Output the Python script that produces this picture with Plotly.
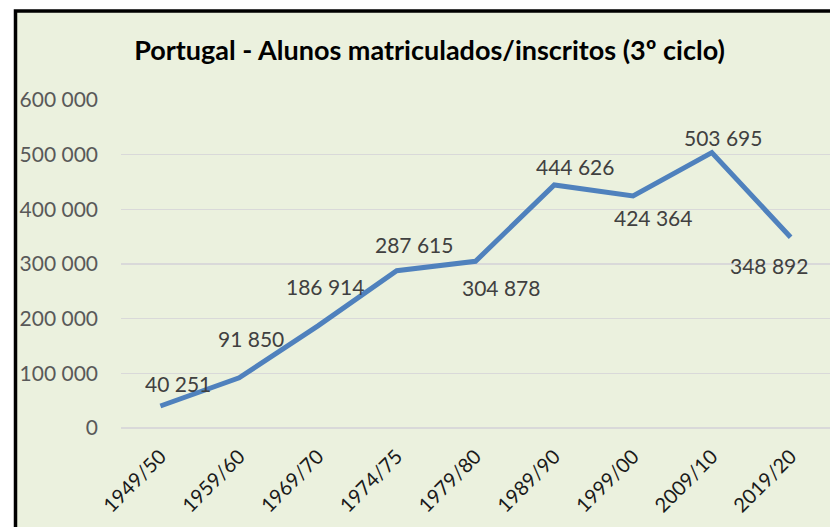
import plotly.graph_objects as go

categories = ["1949/50", "1959/60", "1969/70", "1974/75", "1979/80",
              "1989/90", "1999/00", "2009/10", "2019/20"]
alunos = [40251, 91850, 186914, 287615, 304878, 444626, 424364, 503695, 348892]
y_ticks = [0, 100000, 200000, 300000, 400000, 500000, 600000]

# label offsets in pixels (dx right, dy down)
label_dx = [18, 12, 7, 17, 25, 21, 20, 11, -22]
label_dy = [-23, -39, -39, -26, 26, -18, 21, -15, 28]

W, H = 830, 527
ML, MR, MT, MB = 121, 0, 100, 99
pw, ph = W - ML - MR, H - MT - MB

FONT = "Lato, 'Open Sans', sans-serif"

fig = go.Figure()
fig.add_trace(go.Scatter(
    x=categories, y=alunos, mode="lines",
    line=dict(color="#4F81BD", width=5),
    hoverinfo="skip", showlegend=False,
))

def fmt(v):
    return f"{v:,}".replace(",", " ")

annotations = []
for c, v, dx, dy in zip(categories, alunos, label_dx, label_dy):
    annotations.append(dict(
        x=c, y=v, xref="x", yref="y", text=fmt(v), showarrow=False,
        xanchor="center", yanchor="middle", xshift=dx, yshift=-dy,
        font=dict(family=FONT, size=21, color="#404040"),
    ))

fig.update_layout(
    width=W, height=H,
    margin=dict(l=ML, r=MR, t=MT, b=MB, pad=0),
    paper_bgcolor="white",
    plot_bgcolor="rgba(0,0,0,0)",
    separators=", ",
    title=dict(
        text="<b>Portugal - Alunos matriculados/inscritos (3º ciclo)</b>",
        x=429.5 / W, xanchor="center", xref="container",
        y=1 - 51 / H, yanchor="middle", yref="container",
        font=dict(family=FONT, size=27, color="#000000"),
    ),
    xaxis=dict(
        type="category", range=[-0.5, len(categories) - 0.5],
        showgrid=False, zeroline=False, showline=False, ticks="",
        tickangle=-45, ticklabelstandoff=12,
        tickfont=dict(family=FONT, size=20, color="#1a1a1a"),
        fixedrange=True,
    ),
    yaxis=dict(
        range=[0, 600000], tickvals=y_ticks, tickformat=",d",
        showgrid=True, gridcolor="#D9D9D9", gridwidth=1.5,
        zeroline=True, zerolinecolor="#D9D9D9", zerolinewidth=1.5,
        showline=False, ticks="", ticklabelstandoff=22,
        tickfont=dict(family=FONT, size=21, color="#595959"),
        fixedrange=True,
    ),
    annotations=annotations,
    shapes=[dict(
        type="rect", xref="paper", yref="paper", layer="below",
        x0=(15.5 - ML) / pw, x1=1.2,
        y0=-0.6, y1=(H - MB - 11) / ph,
        line=dict(color="black", width=3.5),
        fillcolor="#EBF1DE",
    )],
)

fig.write_html(
    "out.html",
    config={"displayModeBar": False, "staticPlot": True},
    post_script="document.body.style.margin='0';document.body.style.overflow='hidden';",
)
